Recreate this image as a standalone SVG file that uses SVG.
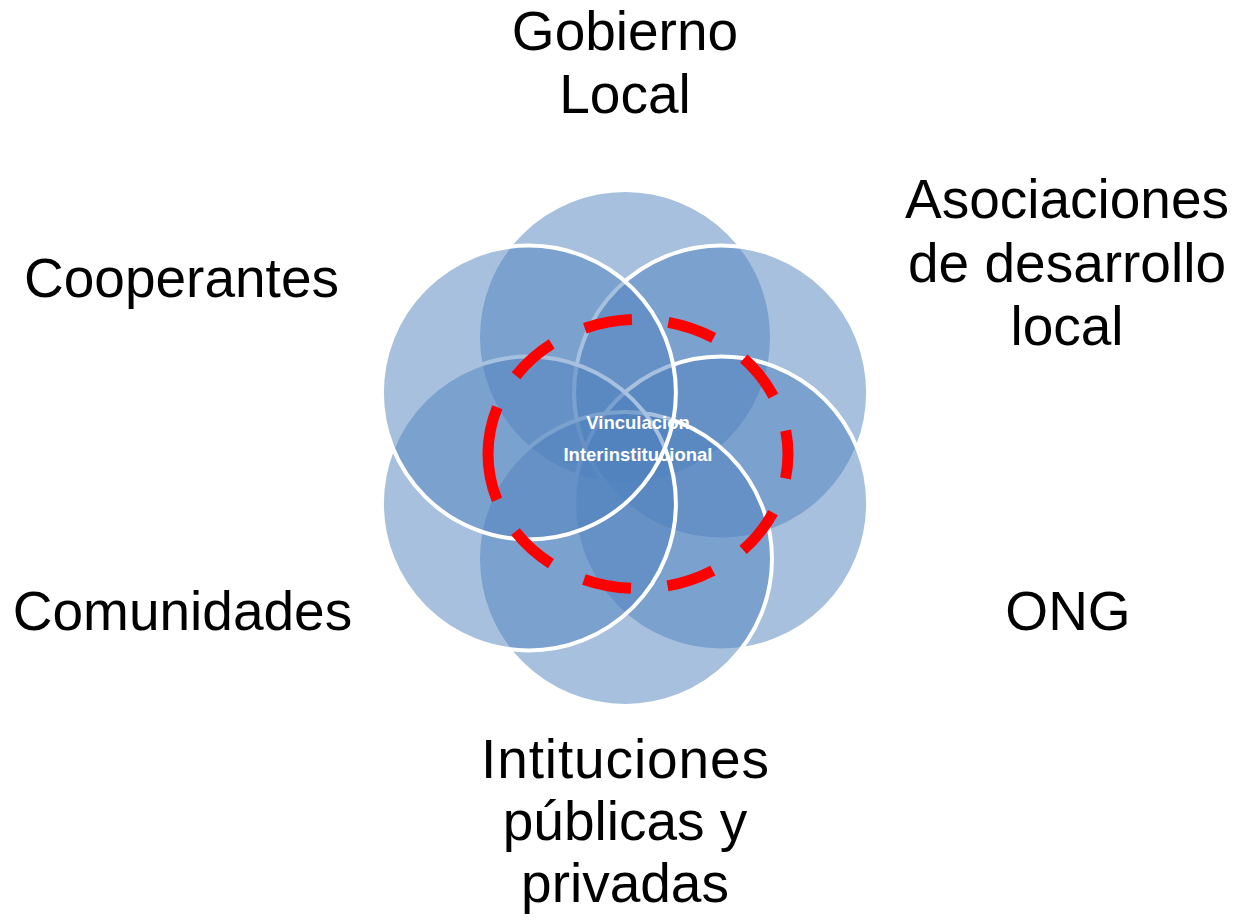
<svg xmlns="http://www.w3.org/2000/svg" width="1246" height="923" viewBox="0 0 1246 923">
  <style>
    .c { fill: #4f81bd; fill-opacity: 0.5; stroke: #ffffff; stroke-width: 4; }
    .lbl { font-family: "Liberation Sans", Arial, sans-serif; font-size: 55px; fill: #000000; text-anchor: middle; }
    .ctr { font-family: "Liberation Sans", Arial, sans-serif; font-size: 18.5px; font-weight: bold; fill: #ffffff; text-anchor: middle; }
    .ring { fill: none; stroke: #ff0000; stroke-width: 11; stroke-dasharray: 48 36.7; }
  </style>
  <rect width="1246" height="923" fill="#ffffff"/>
  <g id="node-gobierno">
    <circle class="c" cx="625" cy="337" r="147"/>
    <text class="lbl" x="625" y="50">Gobierno</text>
    <text class="lbl" x="625" y="113">Local</text>
  </g>
  <g id="node-asociaciones">
    <circle class="c" cx="721.1" cy="392.5" r="147"/>
    <text class="lbl" x="1067" y="218">Asociaciones</text>
    <text class="lbl" x="1067" y="282">de desarrollo</text>
    <text class="lbl" x="1067" y="345">local</text>
  </g>
  <g id="node-ong">
    <circle class="c" cx="721.1" cy="503.5" r="147"/>
    <text class="lbl" x="1068" y="630">ONG</text>
  </g>
  <g id="node-instituciones">
    <circle class="c" cx="625" cy="559" r="147"/>
    <text class="lbl" x="625" y="778" textLength="288" lengthAdjust="spacing">Intituciones</text>
    <text class="lbl" x="625" y="840">públicas y</text>
    <text class="lbl" x="625" y="902">privadas</text>
  </g>
  <g id="node-comunidades">
    <circle class="c" cx="528.9" cy="503.5" r="147"/>
    <text class="lbl" x="182.5" y="630">Comunidades</text>
  </g>
  <g id="node-cooperantes">
    <circle class="c" cx="528.9" cy="392.5" r="147"/>
    <text class="lbl" x="181.5" y="297">Cooperantes</text>
  </g>
  <g id="node-vinculacion">
    <path class="ring" d="M 488,454 A 150,134.5 0 1 1 788,454 A 150,134.5 0 1 1 488,454 Z"/>
    <text class="ctr" x="638" y="429">Vinculación</text>
    <text class="ctr" x="638" y="461">Interinstitucional</text>
  </g>
</svg>
